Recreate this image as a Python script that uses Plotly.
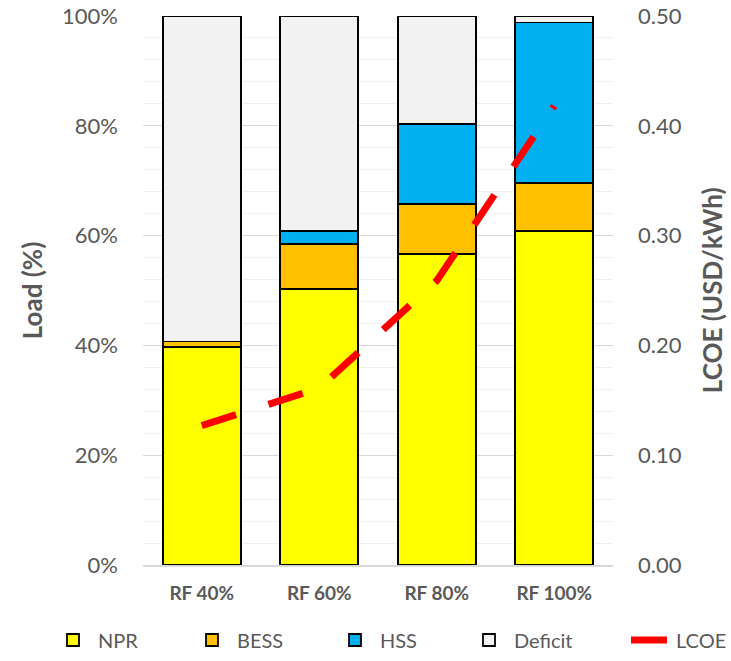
import plotly.graph_objects as go

categories = ["RF 40%", "RF 60%", "RF 80%", "RF 100%"]
npr = [39.7, 50.3, 56.7, 60.8]
bess = [1.0, 8.1, 9.0, 8.8]
hss = [0.0, 2.4, 14.6, 29.2]
deficit = [59.3, 39.2, 19.7, 1.2]
lcoe = [0.127, 0.161, 0.259, 0.418]
load_ticks = [0, 20, 40, 60, 80, 100]
load_tick_text = ["0%", "20%", "40%", "60%", "80%", "100%"]
lcoe_ticks = [0, 0.1, 0.2, 0.3, 0.4, 0.5]

FONT = "Lato"
TXT = "#595959"
W, H = 731, 661

fig = go.Figure()
series = [("NPR", npr, "#FFFF00"), ("BESS", bess, "#FFC000"),
          ("HSS", hss, "#00B0F0"), ("Deficit", deficit, "#F2F2F2")]
legend_names = ["legend", "legend2", "legend3", "legend4", "legend5"]
for i, (name, vals, col) in enumerate(series):
    fig.add_trace(go.Bar(x=categories, y=vals, name=name, legend=legend_names[i],
                         marker=dict(color=col, line=dict(color="black", width=1.8))))

fig.add_trace(go.Scatter(x=categories, y=lcoe, name="LCOE", yaxis="y2", mode="lines",
                         legend=legend_names[4],
                         line=dict(color="#FF0000", width=7, dash="36px,34px")))

# legend text start positions (px) from the reference
text_x = [96, 235, 378, 512, 674]
legends = {}
for ln, tx in zip(legend_names, text_x):
    legends[ln] = dict(orientation="h", xref="container", yref="container",
                       x=(tx - 48) / W, xanchor="left", y=1 - 640 / H, yanchor="middle",
                       font=dict(size=20, color=TXT, family=FONT), itemwidth=40,
                       bgcolor="rgba(0,0,0,0)")

fig.update_layout(
    width=W, height=H,
    margin=dict(l=143, r=118, t=16, b=96, autoexpand=False),
    paper_bgcolor="white", plot_bgcolor="white",
    barmode="stack", bargap=0.335,
    font=dict(family=FONT, color=TXT, size=20),
    showlegend=True,
    **legends,
    xaxis=dict(showgrid=False, showline=True, linecolor="#d9d9d9", linewidth=1.5,
               tickfont=dict(size=19, color=TXT, family=FONT, weight="bold"),
               ticks="", ticklabelstandoff=10),
    yaxis=dict(range=[0, 100], tickvals=load_ticks, ticktext=load_tick_text,
               showgrid=True, gridcolor="#d9d9d9", gridwidth=1.2, zeroline=False,
               minor=dict(dtick=4, showgrid=True, gridcolor="#f0f0f0", gridwidth=1.2),
               tickfont=dict(size=22, color=TXT), ticks="", ticklabelstandoff=24,
               title=dict(text="Load (%)", font=dict(size=26, color=TXT, weight="bold"),
                          standoff=11)),
    yaxis2=dict(range=[0, 0.5], tickvals=lcoe_ticks, tickformat=".2f",
                overlaying="y", side="right", showgrid=False, zeroline=False,
                tickfont=dict(size=22, color=TXT), ticks="", ticklabelstandoff=24),
    annotations=[dict(text="<b>LCOE (USD/kWh)</b>", xref="paper", yref="paper",
                      x=1.21, y=0.5, xanchor="center", yanchor="middle",
                      textangle=-90, showarrow=False,
                      font=dict(size=26, color=TXT, family=FONT))],
)

fig.write_html("out.html", config={"displayModeBar": False},
               post_script="document.body.style.margin='0';document.body.style.overflow='hidden';")
